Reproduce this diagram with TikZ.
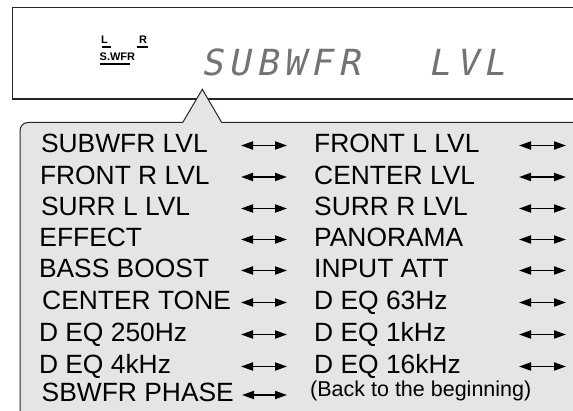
\documentclass[tikz,border=0pt]{standalone}
\usepackage{fontspec}
\setmainfont{Liberation Sans}
\newfontfamily\lcdfont[FakeSlant=0.2,LetterSpace=16]{DejaVu Sans Mono}
\usetikzlibrary{arrows.meta}
\definecolor{panel}{gray}{0.9}
\begin{document}
\begin{tikzpicture}[x=1pt,y=-1pt,
  lbl/.style={anchor=base west, inner sep=0pt, font=\fontsize{26.4}{26.4}\selectfont},
  small/.style={anchor=base west, inner sep=0pt, font=\fontsize{21.5}{21.5}\selectfont},
  ind/.style={anchor=base west, inner sep=0pt, font=\fontsize{11}{11}\selectfont\bfseries},
  bar/.style={line width=2.2pt},
  dbl/.style={{Triangle[length=12pt,width=8pt]}-{Triangle[length=12pt,width=8pt]}, line width=1.9pt},
  frame/.style={line width=1.2pt, black!85},
  panelline/.style={line width=1pt, black!85}]
\useasboundingbox (0,0) rectangle (573,411);
% top display
\draw[frame] (573,7.5) -- (12.5,7.5) -- (12.5,99) -- (573,99);
\node[ind] (indL) at (101,44) {L};
\node[ind] (indR) at (139,44) {R};
\node[ind] (indS) at (99.5,60.7) {S.WFR};
\draw[bar] (101.7,46.8) -- (110.7,46.8);
\draw[bar] (136.7,46.8) -- (148.3,46.8);
\draw[bar] (100,64) -- (130,64);
\node[anchor=base west, inner sep=0pt, text=black!55, font=\fontsize{36}{36}\lcdfont] (disp) at (201,75.5) {SUBWFR\ \hspace{14pt}\ LVL};
% lower panel with pointer
\fill[panel] (573,122.5) -- (221.7,122.5) -- (202.3,89.3) -- (182.7,122.5) -- (100,122.5) [rounded corners=8pt] -- (20,122.5) -- (20,300) [sharp corners] -- (20,411) -- (573,411) -- cycle;
\draw[panelline] (573,122.5) -- (221.7,122.5) -- (202.3,89.3) -- (182.7,122.5) -- (100,122.5) [rounded corners=8pt] -- (20,122.5) -- (20,300) [sharp corners] -- (20,411);
% rows
\foreach \i/\lx/\lt/\b/\rt in {
  1/40.8/SUBWFR LVL/153/FRONT L LVL,
  2/39.8/FRONT R LVL/184.5/CENTER LVL,
  3/40.8/SURR L LVL/216/SURR R LVL,
  4/39.2/EFFECT/247/PANORAMA,
  5/38.8/BASS BOOST/278/INPUT ATT,
  6/42/CENTER TONE/310/D EQ 63Hz,
  7/38.8/D EQ 250Hz/342/D EQ 1kHz,
  8/38.8/D EQ 4kHz/374/D EQ 16kHz}{
  \node[lbl] (l\i) at (\lx,\b) {\lt};
  \node[lbl] (r\i) at (314,\b) {\rt};
  \coordinate (la\i) at (241,\b-7.5);
  \coordinate (lb\i) at (287,\b-7.5);
  \coordinate (ra\i) at (519,\b-7.5);
  \coordinate (rb\i) at (566,\b-7.5);
  \draw[dbl] (la\i) -- (lb\i);
  \draw[dbl] (ra\i) -- (rb\i);
}
\node[lbl] (l9) at (41.5,402) {SBWFR PHASE};
\node[small] (r9) at (310,397) {(Back to the beginning)};
\coordinate (la9) at (242,395);
\coordinate (lb9) at (287,395);
\draw[dbl] (la9) -- (lb9);
\end{tikzpicture}
\end{document}
